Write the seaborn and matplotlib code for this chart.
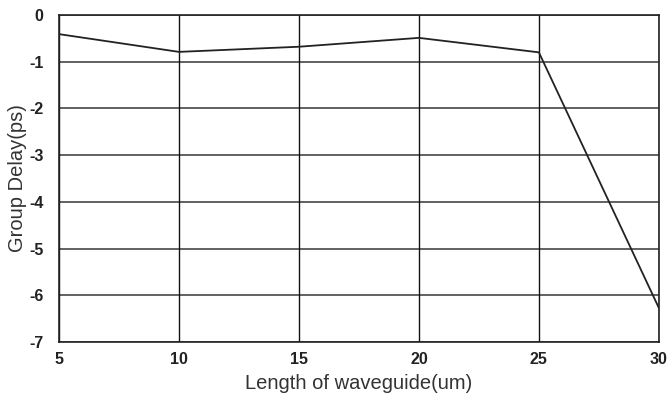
import matplotlib
matplotlib.use("Agg")
import matplotlib.pyplot as plt
import seaborn as sns
import pandas as pd

length_um = [5, 10, 15, 20, 25, 30]
group_delay_ps = [-0.41, -0.79, -0.68, -0.49, -0.80, -6.27]
x_ticks = [5, 10, 15, 20, 25, 30]
y_ticks = [0, -1, -2, -3, -4, -5, -6, -7]

sns.set_style("white")
plt.rcParams['font.family'] = ['Liberation Sans', 'DejaVu Sans']

df = pd.DataFrame({"x": length_um, "y": group_delay_ps})

fig = plt.figure(figsize=(6.68, 3.94), dpi=100)
ax = fig.add_axes([0.0883, 0.132, 0.898, 0.830])
sns.lineplot(data=df, x="x", y="y", ax=ax, color="#222222", linewidth=1.3)

ax.set_xlim(5, 30)
ax.set_ylim(-7, 0)
ax.set_xticks(x_ticks)
ax.set_yticks(y_ticks)
ax.set_xticklabels([str(v) for v in x_ticks], fontsize=11.5, fontweight="bold", color="#222222")
ax.set_yticklabels([str(v) for v in y_ticks], fontsize=11.5, fontweight="bold", color="#222222")
for yv in y_ticks:
    ax.axhline(yv, color="#555555", linewidth=1.3, zorder=0)
for xv in x_ticks:
    ax.axvline(xv, color="#111111", linewidth=1.0, zorder=0)
for s in ax.spines.values():
    s.set_color("#222222")
    s.set_linewidth(1.2)
ax.tick_params(axis="y", direction="out", length=5, width=1, color="#222222", pad=6)
ax.tick_params(axis="x", direction="out", length=3, width=1, color="#222222", pad=4)
ax.set_xlabel("Length of waveguide(um)", fontsize=14.5, color="#333333", labelpad=5)
ax.set_ylabel("Group Delay(ps)", fontsize=14.5, color="#333333")
ax.yaxis.set_label_coords(-0.053, 0.5)

fig.savefig("out.png", dpi=100)
